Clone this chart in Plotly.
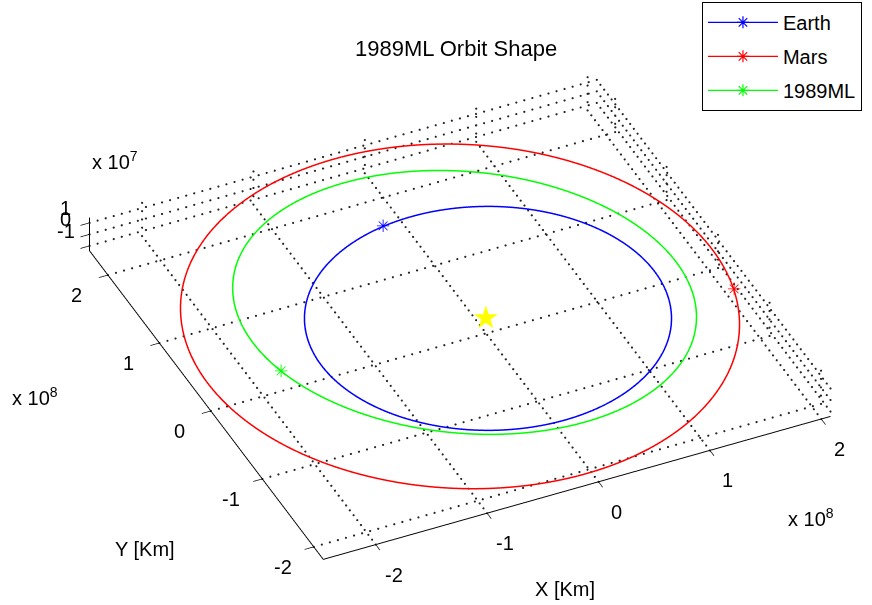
import numpy as np
import plotly.graph_objects as go

AU_KM = 1.495978707e8

# Heliocentric ecliptic orbital elements
bodies = ["Earth", "Mars", "1989ML"]
line_colors = ["#0000ff", "#ff0000", "#00ff00"]
semi_major_au = [1.00000, 1.52368, 1.27227]
eccentricity = [0.01671, 0.09340, 0.13650]
inclination_deg = [0.000, 1.850, 4.378]
ascending_node_deg = [0.00, 49.56, 104.33]
arg_perihelion_deg = [102.94, 286.50, 183.37]
# current position of each body along its orbit (true anomaly)
shown_true_anomaly_deg = [357.0, 12.0, 257.0]

x_ticks = [-2, -1, 0, 1, 2]   # x 10^8 km
y_ticks = [-2, -1, 0, 1, 2]   # x 10^8 km
z_ticks = [-1, 0, 1]          # x 10^7 km
sun_position = [0.0, 0.0, 0.0]

FONT = "Liberation Sans, Arial, sans-serif"
TXT = dict(family=FONT, size=20, color="black")


def orbit_xyz(a_au, e, inc, node, argp, nu_deg):
    nu = np.radians(np.asarray(nu_deg, dtype=float))
    a = a_au * AU_KM
    r = a * (1 - e ** 2) / (1 + e * np.cos(nu))
    u = np.radians(argp) + nu
    om, i = np.radians(node), np.radians(inc)
    x = r * (np.cos(om) * np.cos(u) - np.sin(om) * np.sin(u) * np.cos(i))
    y = r * (np.sin(om) * np.cos(u) + np.cos(om) * np.sin(u) * np.cos(i))
    z = r * np.sin(u) * np.sin(i)
    return x, y, z


nu_path = np.linspace(0.0, 360.0, 721)
paths = [orbit_xyz(semi_major_au[k], eccentricity[k], inclination_deg[k],
                   ascending_node_deg[k], arg_perihelion_deg[k], nu_path)
         for k in range(len(bodies))]
now = [orbit_xyz(semi_major_au[k], eccentricity[k], inclination_deg[k],
                 ascending_node_deg[k], arg_perihelion_deg[k], [shown_true_anomaly_deg[k]])
       for k in range(len(bodies))]

# tight axis limits
xmin = float(min(p[0].min() for p in paths)); xmax = float(max(p[0].max() for p in paths))
ymin = float(min(p[1].min() for p in paths)); ymax = float(max(p[1].max() for p in paths))
zmin = float(min(p[2].min() for p in paths)); zmax = float(max(p[2].max() for p in paths))
xr, yr, zr = xmax - xmin, ymax - ymin, zmax - zmin
# positions just inside the box faces (labels on the limits would be clipped)
xin, yin_lo, yin_hi, zin = xmin + 1e-6 * xr, ymin + 1e-6 * yr, ymax - 1e-6 * yr, zmin + 1e-6 * zr

fig = go.Figure()

# dotted grid (floor and the two back walls) drawn as rows of small dots
gx, gy, gz = [], [], []
def dotted(p, q, n):
    t = np.linspace(0.0, 1.0, n)
    gx.extend(p[0] + (q[0] - p[0]) * t)
    gy.extend(p[1] + (q[1] - p[1]) * t)
    gz.extend(p[2] + (q[2] - p[2]) * t)
for t in x_ticks:
    xv = t * 1e8
    dotted((xv, ymin, zmin), (xv, ymax, zmin), 64)
    dotted((xv, ymax, zmin), (xv, ymax, zmax), 5)
for t in y_ticks:
    yv = t * 1e8
    dotted((xmin, yv, zmin), (xmax, yv, zmin), 64)
    dotted((xmax, yv, zmin), (xmax, yv, zmax), 5)
for t in z_ticks:
    zv = t * 1e7
    dotted((xmin, ymax, zv), (xmax, ymax, zv), 64)
    dotted((xmax, ymin, zv), (xmax, ymax, zv), 64)
fig.add_trace(go.Scatter3d(x=gx, y=gy, z=gz, mode="markers",
                           marker=dict(symbol="circle", size=1.25, color="#222222",
                                       line=dict(width=0)),
                           showlegend=False, hoverinfo="skip"))

for k, name in enumerate(bodies):
    x, y, z = paths[k]
    fig.add_trace(go.Scatter3d(x=x, y=y, z=z, mode="lines",
                               line=dict(color=line_colors[k], width=3),
                               name=name, showlegend=False))

# legend entries
for k, name in enumerate(bodies):
    fig.add_trace(go.Scatter(x=[None], y=[None], mode="lines+markers", name=name,
                             line=dict(color=line_colors[k], width=1.2),
                             marker=dict(symbol="asterisk-open", size=10,
                                         line=dict(color=line_colors[k], width=1.2)),
                             legendgroup=name))

scene_notes = []
# sun
scene_notes.append(dict(x=sun_position[0], y=sun_position[1], z=sun_position[2],
                        text="★", showarrow=False, xanchor="center", yanchor="middle",
                        font=dict(color="#ffff00", size=31, family="DejaVu Sans")))
# current body positions
for k in range(len(bodies)):
    scene_notes.append(dict(x=now[k][0][0], y=now[k][1][0], z=now[k][2][0],
                            text="✳", showarrow=False, xanchor="center", yanchor="middle",
                            font=dict(color=line_colors[k], size=17, family="DejaVu Sans")))
# tick labels
for t in x_ticks:
    scene_notes.append(dict(x=t * 1e8, y=yin_lo, z=zin, text=str(t), showarrow=False,
                            xanchor="center", yanchor="middle", xshift=18, yshift=-30,
                            font=TXT))
for t in y_ticks:
    scene_notes.append(dict(x=xin, y=t * 1e8, z=zin, text=str(t), showarrow=False,
                            xanchor="center", yanchor="middle", xshift=-31, yshift=-20,
                            font=TXT))
for t in z_ticks:
    scene_notes.append(dict(x=xin, y=yin_hi, z=t * 1e7, text=str(t), showarrow=False,
                            xanchor="center", yanchor="middle", xshift=-24, yshift=15,
                            font=TXT))

axis_common = dict(showgrid=False, zeroline=False, showbackground=False,
                   showline=True, linecolor="black", linewidth=2,
                   ticks="outside", tickcolor="black", ticklen=10, tickwidth=1.5,
                   showticklabels=False,
                   showspikes=False, title=dict(text=""))

zoom = 1.94
elev = np.radians(37.6)
azim = np.radians(245.2)
eye_dir = (np.cos(azim) * np.cos(elev), np.sin(azim) * np.cos(elev), np.sin(elev))
fig.update_layout(
    width=872, height=605,
    margin=dict(l=0, r=0, t=0, b=0, autoexpand=False),
    paper_bgcolor="white", plot_bgcolor="rgba(0,0,0,0)",
    xaxis=dict(visible=False), yaxis=dict(visible=False),
    scene=dict(
        domain=dict(x=[0.055, 1.0], y=[0.0, 0.952]),
        xaxis=dict(range=[xmin, xmax], tickvals=[t * 1e8 for t in x_ticks], **axis_common),
        yaxis=dict(range=[ymin, ymax], tickvals=[t * 1e8 for t in y_ticks], **axis_common),
        zaxis=dict(range=[zmin, zmax], tickvals=[t * 1e7 for t in z_ticks], **axis_common),
        aspectmode="manual",
        aspectratio=dict(x=zoom, y=zoom * yr / xr, z=zoom * 0.075),
        camera=dict(projection=dict(type="orthographic"),
                    up=dict(x=0, y=0, z=1),
                    eye=dict(x=1.6 * eye_dir[0], y=1.6 * eye_dir[1], z=1.6 * eye_dir[2])),
        annotations=scene_notes,
    ),
    legend=dict(x=0.805, y=0.997, xanchor="left", yanchor="top",
                bordercolor="black", borderwidth=1, bgcolor="white",
                font=TXT, tracegroupgap=5, itemwidth=70),
    title=dict(text="1989ML Orbit Shape", x=0.523, xanchor="center",
               y=1 - 48 / 605, yanchor="middle",
               font=dict(family=FONT, size=22, color="black")),
    annotations=[
        dict(text="X [Km]", x=565 / 872, y=1 - 589 / 605, xref="paper", yref="paper",
             xanchor="center", yanchor="middle", showarrow=False, font=TXT),
        dict(text="Y [Km]", x=145 / 872, y=1 - 549 / 605, xref="paper", yref="paper",
             xanchor="center", yanchor="middle", showarrow=False, font=TXT),
        dict(text="x 10<sup>8</sup>", x=786 / 872, y=1 - 517 / 605, xref="paper", yref="paper",
             xanchor="left", yanchor="middle", showarrow=False, font=TXT),
        dict(text="x 10<sup>8</sup>", x=10 / 872, y=1 - 396 / 605, xref="paper", yref="paper",
             xanchor="left", yanchor="middle", showarrow=False, font=TXT),
        dict(text="x 10<sup>7</sup>", x=90 / 872, y=1 - 160 / 605, xref="paper", yref="paper",
             xanchor="left", yanchor="middle", showarrow=False, font=TXT),
    ],
)

fig.write_html("out.html")
